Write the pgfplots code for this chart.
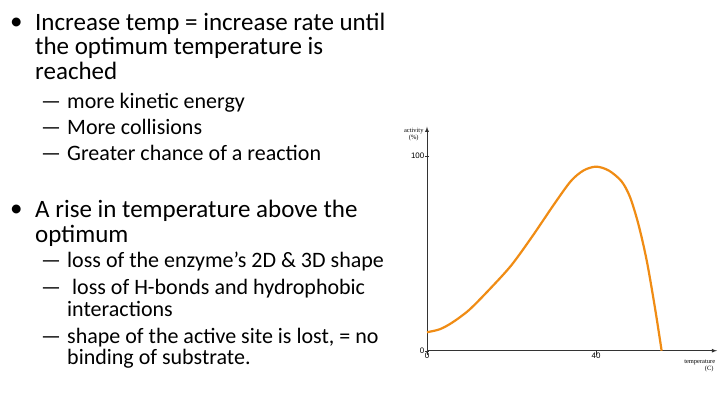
\documentclass[border=0pt]{standalone}
\usepackage{pgfplots}
\pgfplotsset{compat=1.18}
\usepackage{fontspec}
\setmainfont{Carlito}
\newfontfamily\serif{Liberation Serif}
\newfontfamily\ssf{Liberation Sans}
\begin{document}
\begin{tikzpicture}[x=1bp,y=-1bp]
\path[fill=white] (0,0) rectangle (720,412);
\def\big{\fontsize{25bp}{28bp}\selectfont}
\def\sm{\fontsize{22bp}{24bp}\selectfont}
\foreach \y/\t in {30/Increase temp = increase rate until, 54/the optimum temperature is, 79/reached, 217/A rise in temperature above the, 242/optimum}
  \node[anchor=base west,inner sep=0] at (35,\y) {\big \t};
\node[anchor=base west,inner sep=0] at (10,29) {\big •};
\node[anchor=base west,inner sep=0] at (10,216) {\big •};
\foreach \y/\t in {108/more kinetic energy, 134/More collisions, 160/Greater chance of a reaction, 267/{loss of the enzyme’s 2D \& 3D shape}, 294/{\ loss of H-bonds and hydrophobic}, 343/{shape of the active site is lost, = no}}
  \node[anchor=base west,inner sep=0] at (67,\y) {\sm \t};
\node[anchor=base west,inner sep=0] at (67,316) {\sm interactions};
\node[anchor=base west,inner sep=0] at (67,364) {\sm binding of substrate.};
\foreach \y in {108,134,160,267,294,343}
  \node[anchor=base west,inner sep=0] at (41,\y) {\sm —};
\begin{axis}[at={(427bp,-350.7bp)},anchor=origin,scale only axis,
  width=290bp,height=224bp,xmin=0,xmax=68.6,ymin=0,ymax=115,
  axis lines=left, axis line style={thick,black!80,-latex},
  xtick={0,40},ytick={0,100},
  /pgf/number format/assume math mode=true,
  tick style={black!80},
  x tick label style={font=\ssf\fontsize{8}{9}\selectfont,yshift=3pt},
  y tick label style={font=\ssf\fontsize{8}{9}\selectfont,xshift=3pt},
  xtick style={yshift=-2pt},
  clip=false]
\addplot[line width=2.2bp,color={rgb,255:red,240;green,140;blue,20},smooth,tension=0.5] coordinates {
(0,9.5)(3,11)(6,14.5)(10,21)(15,32)(20,44)(25,59)(30,75)(34,87)(37,92.5)(40,94.5)(43,92.5)(46,87)(48,79)(50,65)(52,46)(54,21)(55.5,0)};
\node[font=\serif\fontsize{6.5}{7}\selectfont,align=center,anchor=south east] at (axis cs:0,106) {activity\\(\%)};
\node[font=\serif\fontsize{6.5}{7}\selectfont,align=right,anchor=north east] at (axis cs:69,-3) {temperature\\(C)\ \ };
\end{axis}
\end{tikzpicture}
\end{document}
